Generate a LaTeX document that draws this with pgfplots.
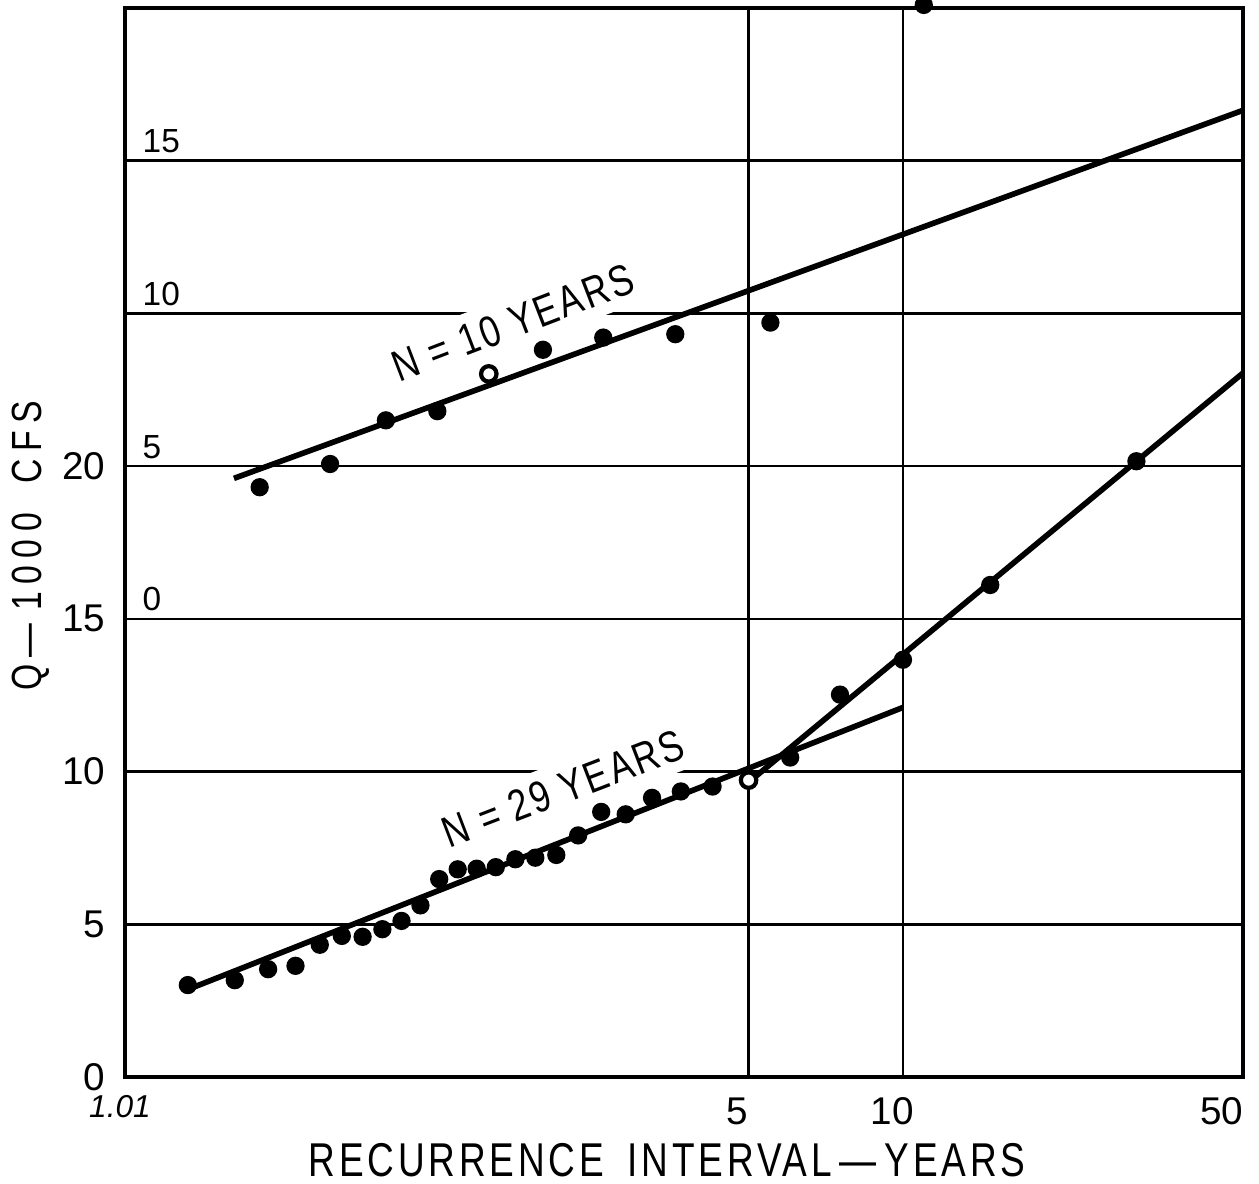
\documentclass[border=0pt]{standalone}
\usepackage{fontspec}
\usepackage{pgfplots}
\pgfplotsset{compat=1.18}
\setmainfont{Liberation Sans}
\newfontfamily\lett[FakeStretch=0.78,LetterSpace=8]{Liberation Sans}
\newfontfamily\nlett[FakeStretch=0.8,LetterSpace=6]{Liberation Sans}
\newfontfamily\ylett[FakeStretch=0.8,LetterSpace=18]{Liberation Sans}
\newfontfamily\digits{Liberation Sans}
\begin{document}
\begin{tikzpicture}
\useasboundingbox (-12.5mm,-10.6mm) rectangle (113.4mm,107.7mm);
\begin{axis}[
  at={(0,0)}, anchor=south west,
  scale only axis, width=111.8mm, height=106.9mm,
  xmin=-1.5293, xmax=3.9019, ymin=0, ymax=35,
  axis line style={line width=1pt},
  xtick={1.4999,2.2504,3.9019},
  xticklabels={\hspace{-2.2mm}5,\hspace{-2.2mm}10,\makebox[0pt][r]{50}},
  ytick={0,5,10,15,20,25,30}, yticklabels={0,5,10,15,20,,},
  major tick length=0pt,
  xmajorgrids, ymajorgrids,
  grid style={line width=0.7pt, black},
  extra x ticks={-1.5293}, extra x tick labels={1.01},
  extra x tick style={grid=none, xticklabel style={font=\digits\itshape\fontsize{9}{10}\selectfont, xshift=-0.5mm, yshift=0.2mm}},
  /pgf/number format/assume math mode=true,
  tick label style={font=\digits\fontsize{11}{12}\selectfont},
  xticklabel style={anchor=north, inner sep=0pt, yshift=-2mm},
  yticklabel style={anchor=east, inner sep=0pt, xshift=-1.9mm},
  xlabel={RECURRENCE\hspace{0.5em}INTERVAL\,—\,YEARS},
  xlabel style={at={(axis description cs:0.485,-0.0617)}, anchor=north, inner sep=0pt, font=\lett\fontsize{13.5}{14}\selectfont},
  ylabel={Q\,—\hspace{0.3em}1000\hspace{0.7em}CFS},
  ylabel style={at={(axis description cs:-0.0671,0.497)}, anchor=south, inner sep=0pt, font=\ylett\fontsize{12}{13}\selectfont},
  clip=false,
]
% second scale labels (N = 10 years)
\node[anchor=south west, inner sep=0pt, xshift=1.7mm, yshift=0.7mm, font=\digits\fontsize{9.5}{10}\selectfont] at (axis cs:-1.5293,30) {15};
\node[anchor=south west, inner sep=0pt, xshift=1.7mm, yshift=0.7mm, font=\digits\fontsize{9.5}{10}\selectfont] at (axis cs:-1.5293,25) {10};
\node[anchor=south west, inner sep=0pt, xshift=1.7mm, yshift=0.7mm, font=\digits\fontsize{9.5}{10}\selectfont] at (axis cs:-1.5293,20) {5};
\node[anchor=south west, inner sep=0pt, xshift=1.7mm, yshift=0.7mm, font=\digits\fontsize{9.5}{10}\selectfont] at (axis cs:-1.5293,15) {0};
% curve labels
\node[fill=white, inner sep=3pt, rotate=21, font=\nlett\fontsize{12.5}{13}\selectfont] at (axis cs:0.355,24.7) {N = 10 YEARS};
\node[fill=white, inner sep=3pt, rotate=21, font=\nlett\fontsize{12.5}{13}\selectfont] at (axis cs:0.60,9.45) {N = 29 YEARS};
% fitted lines
\addplot[black, line width=1.6pt] coordinates {(-1.0,19.6) (3.9019,31.65)};
\addplot[black, line width=1.6pt] coordinates {(-1.23,2.85) (2.25,12.1)};
\addplot[black, line width=1.6pt] coordinates {(1.50,9.65) (3.9019,23.05)};
% N = 10 years data
\addplot[only marks, mark=*, mark size=2.4pt, black] coordinates {
(-0.875,19.31) (-0.533,20.07) (-0.262,21.50) (-0.012,21.80)
(0.501,23.81) (0.794,24.21) (1.144,24.32) (1.606,24.70) (2.351,35.1)};
\addplot[only marks, mark=*, mark size=2.2pt, black, mark options={fill=white, line width=1.2pt}] coordinates {(0.238,23.02)};
% N = 29 years data
\addplot[only marks, mark=*, mark size=2.4pt, black] coordinates {
(-1.224,3.01) (-0.996,3.17) (-0.834,3.53) (-0.701,3.64) (-0.583,4.33)
(-0.476,4.62) (-0.375,4.59) (-0.279,4.84) (-0.186,5.11) (-0.094,5.62)
(-0.003,6.48) (0.087,6.80) (0.179,6.82) (0.272,6.87) (0.367,7.13)
(0.464,7.18) (0.566,7.27) (0.672,7.91) (0.784,8.68) (0.903,8.60)
(1.031,9.14) (1.171,9.35) (1.325,9.51) (1.702,10.46) (1.944,12.52)
(2.250,13.66) (2.674,16.11) (3.384,20.16)};
\addplot[only marks, mark=*, mark size=2.2pt, black, mark options={fill=white, line width=1.2pt}] coordinates {(1.500,9.72)};
\end{axis}
\end{tikzpicture}
\end{document}
